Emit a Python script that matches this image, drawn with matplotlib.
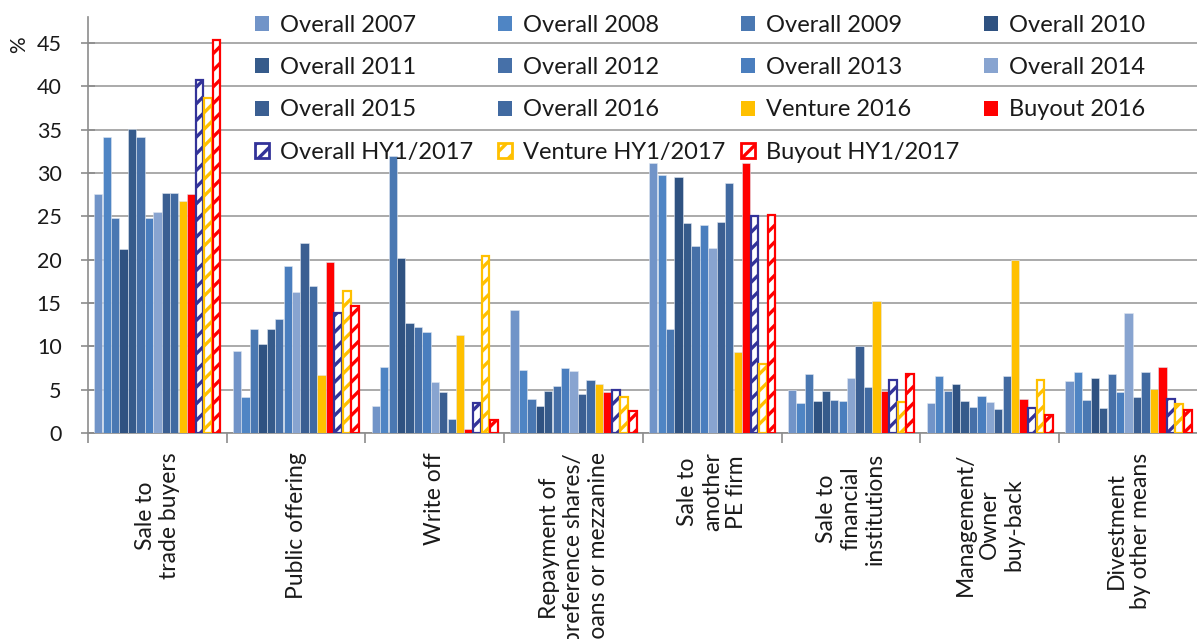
import matplotlib
matplotlib.use('Agg')
import matplotlib.pyplot as plt
import numpy as np
from matplotlib.patches import Patch

plt.rcParams['font.family'] = ['Lato', 'DejaVu Sans']
plt.rcParams['hatch.linewidth'] = 2.4

categories = ["Sale to\ntrade buyers", "Public offering", "Write off",
              "Repayment of\npreference shares/\nloans or mezzanine",
              "Sale to\nanother\nPE firm", "Sale to\nfinancial\ninstitutions",
              "Management/\nOwner\nbuy-back", "Divestment\nby other means"]

series_names = ["Overall 2007", "Overall 2008", "Overall 2009", "Overall 2010",
                "Overall 2011", "Overall 2012", "Overall 2013", "Overall 2014",
                "Overall 2015", "Overall 2016", "Venture 2016", "Buyout 2016",
                "Overall HY1/2017", "Venture HY1/2017", "Buyout HY1/2017"]

overall_2007 = [27.6, 9.5, 3.1, 14.2, 31.2, 5.0, 3.5, 6.0]
overall_2008 = [34.1, 4.2, 7.6, 7.3, 29.8, 3.5, 6.6, 7.0]
overall_2009 = [24.8, 12.0, 32.0, 3.9, 12.0, 6.8, 4.8, 3.8]
overall_2010 = [21.2, 10.3, 20.2, 3.1, 29.5, 3.7, 5.7, 6.4]
overall_2011 = [35.1, 12.0, 12.7, 4.9, 24.2, 4.8, 3.7, 2.9]
overall_2012 = [34.1, 13.2, 12.2, 5.4, 21.6, 3.8, 3.0, 6.8]
overall_2013 = [24.8, 19.3, 11.7, 7.5, 24.0, 3.7, 4.3, 4.7]
overall_2014 = [25.5, 16.3, 5.9, 7.1, 21.4, 6.4, 3.6, 13.8]
overall_2015 = [27.7, 21.9, 4.7, 4.5, 24.3, 10.0, 2.8, 4.1]
overall_2016 = [27.7, 17.0, 1.6, 6.1, 28.8, 5.3, 6.6, 7.0]
venture_2016 = [26.8, 6.7, 11.3, 5.7, 9.3, 15.2, 20.0, 5.1]
buyout_2016 = [27.6, 19.7, 0.5, 4.7, 31.2, 4.8, 3.9, 7.6]
overall_hy1_2017 = [40.7, 13.8, 3.5, 5.0, 25.0, 6.1, 2.9, 3.9]
venture_hy1_2017 = [38.7, 16.4, 20.4, 4.1, 8.0, 3.6, 6.1, 3.4]
buyout_hy1_2017 = [45.3, 14.6, 1.5, 2.5, 25.2, 6.8, 2.1, 2.6]

series_values = [overall_2007, overall_2008, overall_2009, overall_2010,
                 overall_2011, overall_2012, overall_2013, overall_2014,
                 overall_2015, overall_2016, venture_2016, buyout_2016,
                 overall_hy1_2017, venture_hy1_2017, buyout_hy1_2017]

colors = ["#7194c8", "#4f85c4", "#4a78b2", "#2f5281", "#365b8b", "#4670a8",
          "#4a7ebe", "#88a4d0", "#3b5f92", "#416aa1", "#ffc000", "#ff0000",
          "#333399", "#ffc000", "#ff0000"]
hatched = [False] * 12 + [True] * 3

yticks = [0, 5, 10, 15, 20, 25, 30, 35, 40, 45]

W, H = 1197, 639
fig = plt.figure(figsize=(W / 100, H / 100), dpi=100)
ax = fig.add_axes([88 / W, 206 / H, 1110 / W, 416 / H])

n = len(series_values)
x = np.arange(len(categories)) + 0.5
step = 0.0608
bw = 0.0600
handles = []
for j, (vals, c, h, name) in enumerate(zip(series_values, colors, hatched, series_names)):
    pos = x + (j - (n - 1) / 2) * step
    if h:
        ax.bar(pos, vals, width=bw * 0.92, facecolor='white', edgecolor=c,
               linewidth=1.6, hatch='//', zorder=3)
        handles.append(Patch(facecolor='white', edgecolor=c, linewidth=2.0,
                             hatch='//', label=name))
    else:
        ax.bar(pos, vals, width=bw, color=c, edgecolor='#dfe6f0', linewidth=0.4,
               zorder=3)
        handles.append(Patch(facecolor=c, edgecolor='none', label=name))

ax.set_xlim(0, 8 * 1110 / 1112)
ax.set_ylim(0, 48)
ax.set_yticks(yticks)
ax.set_yticklabels([str(v) for v in yticks])
ax.yaxis.grid(True, color='#9c9c9c', linewidth=1.2, zorder=0)
ax.set_axisbelow(True)

for s in ['top', 'right']:
    ax.spines[s].set_visible(False)
for s in ['left', 'bottom']:
    ax.spines[s].set_color('#8c8c8c')
    ax.spines[s].set_linewidth(1.2)

ax.set_xticks(x)
ax.set_xticklabels(categories, rotation=90, ha='center', va='top',
                   multialignment='center', fontsize=16.5, color='#1a1a1a')
ax.set_xticks(np.arange(0, 9), minor=True)
ax.tick_params(axis='x', which='major', length=0, pad=14)
ax.tick_params(axis='x', which='minor', length=7, width=1.2, color='#8c8c8c',
               direction='out')
ax.tick_params(axis='y', direction='inout', length=10, width=1.2,
               color='#8c8c8c', labelsize=15.5, pad=14, labelcolor='#1a1a1a')

fig.text(19 / W, 1 - 45 / H, '%', rotation=90, ha='center', va='center',
         fontsize=15, color='#1a1a1a')

# Legend: 4 columns, row-major order
col_x = [255, 498, 741, 984]
for ci in range(4):
    hs = handles[ci::4]
    leg = fig.legend(handles=hs, loc='upper left',
                     bbox_to_anchor=(col_x[ci] / W, 1 - 15 / H),
                     frameon=False, fontsize=17, handlelength=0.6,
                     handleheight=0.6, handletextpad=0.45, labelspacing=0.9,
                     borderaxespad=0, borderpad=0)
    for t in leg.get_texts():
        t.set_color('#1a1a1a')

fig.savefig('out.png', dpi=100)
